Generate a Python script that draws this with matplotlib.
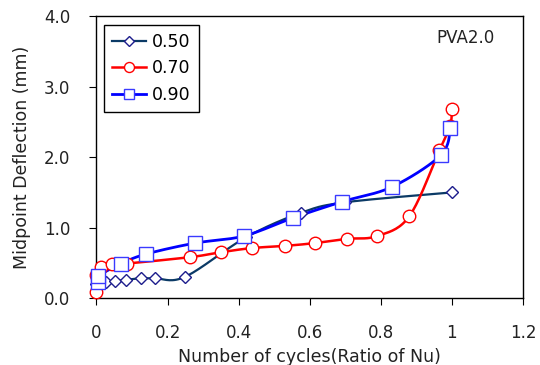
import numpy as np
import matplotlib
matplotlib.use('Agg')
import matplotlib.pyplot as plt
from matplotlib.lines import Line2D

# series
x50 = [0.0, 0.008, 0.017, 0.028, 0.053, 0.084, 0.126, 0.165, 0.249, 0.42, 0.575, 0.70, 1.0]
y50 = [0.20, 0.21, 0.22, 0.23, 0.24, 0.26, 0.28, 0.28, 0.30, 0.86, 1.21, 1.36, 1.50]

x70 = [0.0, 0.0, 0.012, 0.044, 0.086, 0.263, 0.35, 0.438, 0.53, 0.614, 0.704, 0.79, 0.88, 0.965, 0.995, 1.0]
y70 = [0.09, 0.33, 0.44, 0.48, 0.49, 0.58, 0.65, 0.71, 0.74, 0.78, 0.84, 0.88, 1.16, 2.10, 2.45, 2.68]

x90 = [0.003, 0.005, 0.07, 0.14, 0.277, 0.414, 0.554, 0.692, 0.832, 0.969, 0.996]
y90 = [0.23, 0.31, 0.49, 0.625, 0.78, 0.88, 1.14, 1.37, 1.58, 2.03, 2.41]

labels = ['0.50', '0.70', '0.90']
xticks = [0, 0.2, 0.4, 0.6, 0.8, 1, 1.2]
xticklabels = ['0', '0.2', '0.4', '0.6', '0.8', '1', '1.2']
yticks = [0, 1, 2, 3, 4]
yticklabels = ['0.0', '1.0', '2.0', '3.0', '4.0']


def smooth(ax, xs, ys, n=20):
    """Excel-like smoothed line (Catmull-Rom in screen space)."""
    pts = ax.transData.transform(np.column_stack([xs, ys]))
    p = np.vstack([pts[0], pts, pts[-1]])
    t = np.linspace(0, 1, n)[:, None]
    out = []
    for i in range(1, len(p) - 2):
        p0, p1, p2, p3 = p[i - 1], p[i], p[i + 1], p[i + 2]
        c1 = p1 + (p2 - p0) / 6.0
        c2 = p2 - (p3 - p1) / 6.0
        seg = ((1 - t) ** 3) * p1 + 3 * ((1 - t) ** 2) * t * c1 \
            + 3 * (1 - t) * t ** 2 * c2 + t ** 3 * p2
        out.append(seg)
    out = np.vstack(out)
    d = ax.transData.inverted().transform(out)
    return d[:, 0], d[:, 1]


def main():
    plt.rcParams['font.family'] = 'DejaVu Sans'
    fig = plt.figure(figsize=(5.4, 3.65), dpi=100)
    ax = fig.add_axes([0.1787, 0.1836, 0.7898, 0.7712])
    ax.set_xlim(0, 1.2)
    ax.set_ylim(0, 4.0)

    styles = [
        dict(x=x50, y=y50, lc='#0b3a66', mec='#1c1c8c', marker='D', ms=6.5, lw=1.6),
        dict(x=x70, y=y70, lc='#ff0000', mec='#ff0000', marker='o', ms=9, lw=1.8),
        dict(x=x90, y=y90, lc='#0000ff', mec='#3a3aff', marker='s', ms=9.5, lw=2.0),
    ]
    handles = []
    for s, lab in zip(styles, labels):
        sx, sy = smooth(ax, s['x'], s['y'])
        ax.plot(sx, sy, color=s['lc'], lw=s['lw'], zorder=2, clip_on=False)
        ax.plot(s['x'], s['y'], ls='none', marker=s['marker'], ms=s['ms'],
                mfc='white', mec=s['mec'], mew=1.0, zorder=3, clip_on=False)
        handles.append(Line2D([], [], color=s['lc'], lw=s['lw'], marker=s['marker'],
                              ms=s['ms'] * 0.8, mfc='white', mec=s['mec'], mew=1.0))

    leg = ax.legend(handles, labels, loc='upper left', bbox_to_anchor=(0.017, 0.97),
                    borderaxespad=0, fancybox=False, framealpha=1, edgecolor='black',
                    fontsize=12.5, handlelength=2.0, handletextpad=0.35,
                    labelspacing=0.5, borderpad=0.45)
    leg.get_frame().set_linewidth(1.0)

    ax.text(0.865, 0.925, 'PVA2.0', transform=ax.transAxes, ha='center', va='center',
            fontsize=12, color='#222222')

    ax.set_xticks(xticks)
    ax.set_xticklabels(xticklabels)
    ax.set_yticks(yticks)
    ax.set_yticklabels(yticklabels)
    ax.tick_params(axis='x', direction='out', length=5, pad=14, labelsize=12,
                   labelcolor='#222222')
    ax.tick_params(axis='y', direction='out', length=5, pad=14, labelsize=12,
                   labelcolor='#222222')
    for sp in ax.spines.values():
        sp.set_linewidth(1.0)

    ax.set_xlabel('Number of cycles(Ratio of Nu)', fontsize=12.5, color='#222222', labelpad=4)
    ax.set_ylabel('Midpoint Deflection (mm)', fontsize=12.5, color='#222222', labelpad=9)

    fig.savefig('out.png', dpi=100)


if __name__ == "__main__":
    main()
